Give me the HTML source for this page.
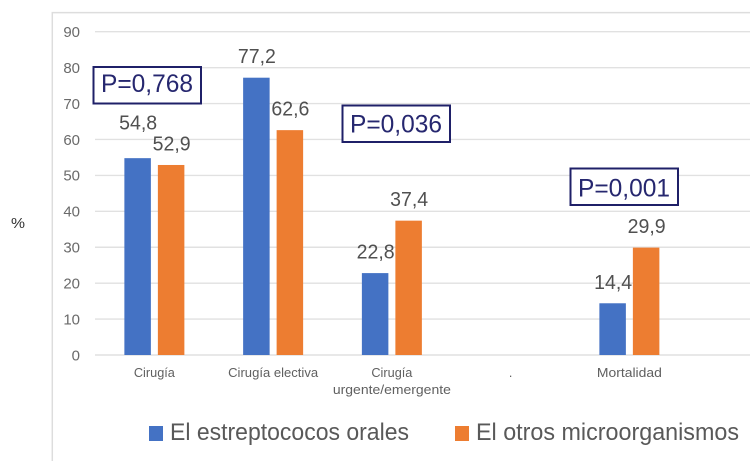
<!DOCTYPE html>
<html lang="es">
<head>
<meta charset="utf-8">
<title>Gráfico de barras</title>
<style>
html,body{margin:0;padding:0;background:#fff;width:750px;height:469px;overflow:hidden}
svg{display:block;font-family:"Liberation Sans",sans-serif;filter:blur(0.3px)}
</style>
</head>
<body>
<svg id="chart" xmlns="http://www.w3.org/2000/svg" width="750" height="469" viewBox="0 0 750 469">
  <rect x="0" y="0" width="750" height="469" fill="#ffffff"/>
  <path d="M750 12.6H52.3V461" fill="none" stroke="#dddddd" stroke-width="1.5"/>
  <text x="11" y="228" font-size="15" fill="#333333" textLength="14" lengthAdjust="spacingAndGlyphs">%</text>
  <g id="grid"></g>
  <g id="yticks"></g>
  <g id="bars"></g>
  <g id="values"></g>
  <g id="cats"></g>

  <g>
    <rect x="93.5" y="67" width="107.5" height="36.5" fill="#ffffff" stroke="#1f2068" stroke-width="2"/>
    <text x="101" y="92" font-size="25" fill="#26276f" textLength="92" lengthAdjust="spacingAndGlyphs">P=0,768</text>
  </g>
  <g>
    <rect x="342.5" y="105.5" width="107.5" height="36.5" fill="#ffffff" stroke="#1f2068" stroke-width="2"/>
    <text x="350" y="132.5" font-size="25" fill="#26276f" textLength="92" lengthAdjust="spacingAndGlyphs">P=0,036</text>
  </g>
  <g>
    <rect x="570.5" y="168.5" width="107.5" height="36.5" fill="#ffffff" stroke="#1f2068" stroke-width="2"/>
    <text x="578" y="196.5" font-size="25" fill="#26276f" textLength="92" lengthAdjust="spacingAndGlyphs">P=0,001</text>
  </g>

  <g>
    <g>
      <rect x="149" y="426" width="14" height="15" fill="#4472c4"/>
      <text x="170" y="440" font-size="24" fill="#595959" textLength="239" lengthAdjust="spacingAndGlyphs">El estreptococos orales</text>
    </g>
    <g>
      <rect x="455" y="426" width="14" height="15" fill="#ed7d31"/>
      <text x="476" y="440" font-size="24" fill="#595959" textLength="263" lengthAdjust="spacingAndGlyphs">El otros microorganismos</text>
    </g>
  </g>
</svg>
<script>
var categories = [["Cirugía"], ["Cirugía electiva"], ["Cirugía", "urgente/emergente"], ["."], ["Mortalidad"]];
var estreptococos = [54.8, 77.2, 22.8, null, 14.4];
var otros = [52.9, 62.6, 37.4, null, 29.9];
var valueLabelsA = ["54,8", "77,2", "22,8", "", "14,4"];
var valueLabelsB = ["52,9", "62,6", "37,4", "", "29,9"];
var yTicks = [0, 10, 20, 30, 40, 50, 60, 70, 80, 90];

var NS = "http://www.w3.org/2000/svg";
var plotLeft = 95, band = 118.75, y0 = 355, yPerUnit = 3.592, barW = 26.5, barGap = 7;
function xScale(i) { return plotLeft + band * (i + 0.5); }
function yScale(v) { return y0 - v * yPerUnit; }
function make(tag, parent, attrs) {
  var el = document.createElementNS(NS, tag);
  for (var k in attrs) { el.setAttribute(k, attrs[k]); }
  parent.appendChild(el);
  return el;
}

var grid = document.getElementById("grid");
var yticks = document.getElementById("yticks");
yTicks.forEach(function (t) {
  var line = make("line", grid, {x1: plotLeft, x2: 750, y1: yScale(t), y2: yScale(t), stroke: "#e1e1e1", "stroke-width": 1.4});
  
  
  var label = make("text", yticks, {x: 80, y: yScale(t) + 5.3, "font-size": 15, fill: "#6a6a6a", "text-anchor": "end"});
  
  
  label.textContent = String(t);
});

var bars = document.getElementById("bars");
var values = document.getElementById("values");
function drawSeries(series, labels, side, color, name) {
  series.forEach(function (v, i) {
    if (v === null) { return; }
    var cx = xScale(i) + side * (barGap + barW) / 2;
    var bar = make("rect", bars, {x: cx - barW / 2, y: yScale(v), width: barW, height: y0 - yScale(v), fill: color});
    
    
    // The first label sits one line higher so it clears its neighbour.
    var lift = (i === 0 && side < 0) ? 14 : 0;
    var text = make("text", values, {x: cx + 0.5, y: yScale(v) - 14.5 - lift, "font-size": 20, fill: "#505050", "text-anchor": "middle", textLength: 38, lengthAdjust: "spacingAndGlyphs"});
    
    
    text.textContent = labels[i];
  });
}
drawSeries(estreptococos, valueLabelsA, -1, "#4472c4", "estreptococos");
drawSeries(otros, valueLabelsB, 1, "#ed7d31", "otros");

var cats = document.getElementById("cats");
var catTextFit = {"Cirugía": 41, "Cirugía electiva": 90, "urgente/emergente": 118, "Mortalidad": 65};
categories.forEach(function (lines, i) {
  lines.forEach(function (s, j) {
    var t = make("text", cats, {x: xScale(i), y: 377 + j * 17, "font-size": 12.5, fill: "#606060", "text-anchor": "middle"});
    if (catTextFit[s]) {
      t.setAttribute("textLength", catTextFit[s]);
      t.setAttribute("lengthAdjust", "spacingAndGlyphs");
    }
    
    
    t.textContent = s;
  });
});
</script>
</body>
</html>
